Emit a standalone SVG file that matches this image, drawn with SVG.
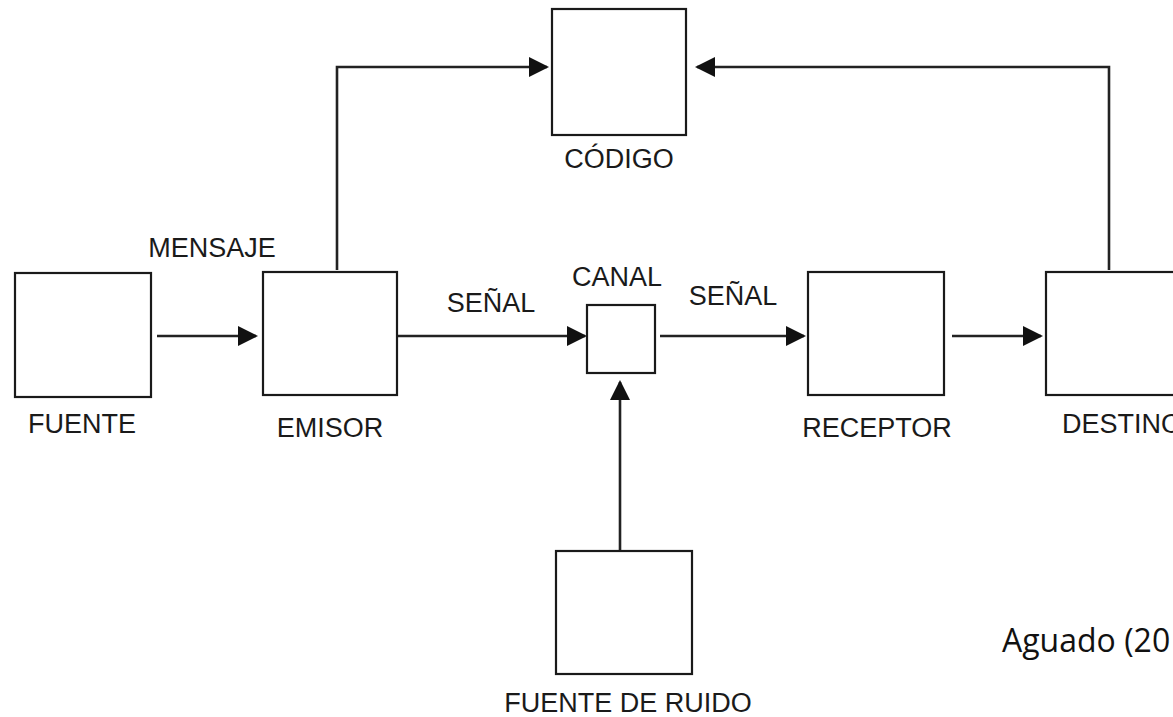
<svg xmlns="http://www.w3.org/2000/svg" width="1173" height="717" viewBox="0 0 1173 717">
<style>
.box{fill:#fff;stroke:#1a1a1a;stroke-width:2.2}
.lbl{font-family:"Liberation Sans",Arial,sans-serif;font-size:27px;fill:#1a1a1a;text-anchor:middle}
.con{fill:none;stroke:#222;stroke-width:2.6}
.cite{font-family:"Open Sans","Noto Sans",sans-serif;font-size:32px;fill:#111}
</style>
<defs>
<marker id="ah" markerUnits="userSpaceOnUse" viewBox="0 0 20 20" markerWidth="20" markerHeight="20" refX="18" refY="10" orient="auto">
<path d="M0,0 L20,10 L0,20 z" fill="#111"/>
</marker>
</defs>
<rect width="1173" height="717" fill="#fff"/>
<g id="connectors">
<line class="con" x1="157" y1="336" x2="256" y2="336" marker-end="url(#ah)"/>
<line class="con" x1="398" y1="336" x2="585" y2="336" marker-end="url(#ah)"/>
<line class="con" x1="660" y1="336" x2="804" y2="336" marker-end="url(#ah)"/>
<line class="con" x1="952" y1="336" x2="1041" y2="336" marker-end="url(#ah)"/>
<polyline class="con" points="337,270 337,67 547,67" marker-end="url(#ah)"/>
<polyline class="con" points="1109,270 1109,67 697,67" marker-end="url(#ah)"/>
<line class="con" x1="620" y1="550" x2="620" y2="382" marker-end="url(#ah)"/>
</g>
<g id="fuente">
<rect class="box" x="15" y="273" width="136" height="124"/>
<text class="lbl" x="82" y="433">FUENTE</text>
</g>
<g id="emisor">
<rect class="box" x="263" y="272" width="134" height="123"/>
<text class="lbl" x="330" y="437">EMISOR</text>
</g>
<g id="codigo">
<rect class="box" x="552" y="9" width="134" height="126"/>
<text class="lbl" x="619" y="168">CÓDIGO</text>
</g>
<g id="canal">
<rect class="box" x="587" y="305" width="68" height="68"/>
<text class="lbl" x="617" y="286">CANAL</text>
</g>
<g id="receptor">
<rect class="box" x="808" y="272" width="136" height="123"/>
<text class="lbl" x="877" y="437">RECEPTOR</text>
</g>
<g id="destino">
<rect class="box" x="1046" y="272" width="136" height="123"/>
<text class="lbl" x="1062" y="433" style="text-anchor:start">DESTINO</text>
</g>
<g id="fuente-ruido">
<rect class="box" x="556" y="551" width="136" height="123"/>
<text class="lbl" x="628" y="712">FUENTE DE RUIDO</text>
</g>
<g id="labels">
<text class="lbl" x="212" y="257">MENSAJE</text>
<text class="lbl" x="491" y="312">SEÑAL</text>
<text class="lbl" x="733" y="305">SEÑAL</text>
<text class="cite" x="1002" y="652">Aguado (20</text>
</g>
</svg>
